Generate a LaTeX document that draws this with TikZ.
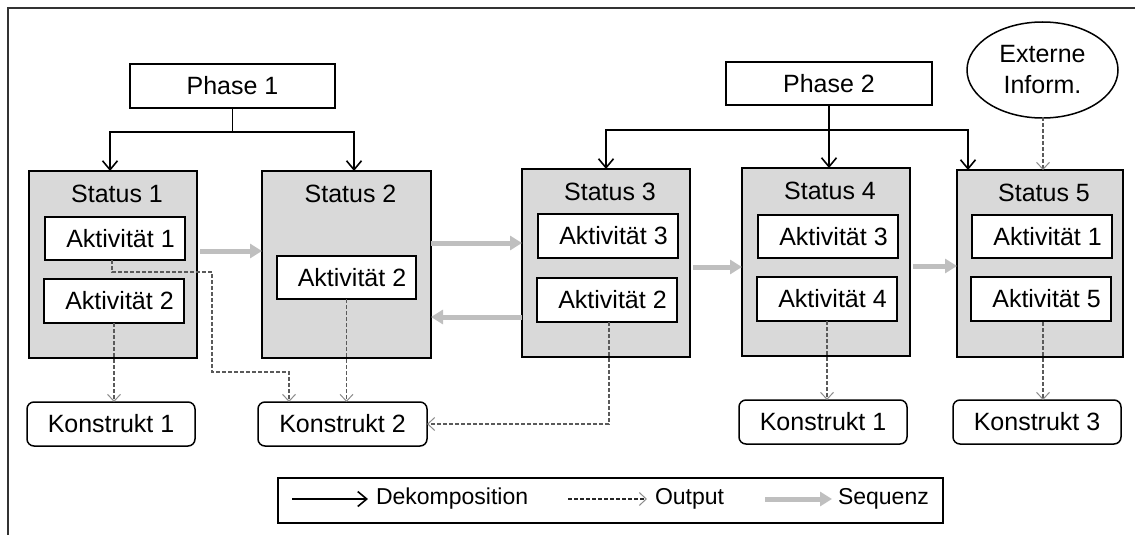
\documentclass[tikz,border=0pt]{standalone}
\usepackage{fontspec}
\setmainfont{Liberation Sans}
\usetikzlibrary{arrows.meta,shapes.geometric}
\definecolor{statusfill}{HTML}{D9D9D9}
\definecolor{seqgray}{HTML}{BFBFBF}
\definecolor{outgray}{HTML}{5A5A5A}

\begin{document}
\begin{tikzpicture}[x=1pt,y=-1pt,
  font=\fontsize{25}{31}\selectfont,
  every node/.style={inner sep=0pt, outer sep=0pt},
  phasebox/.style={draw, line width=1.5pt, fill=white, minimum width=205pt, minimum height=44pt},
  statusbox/.style={draw, line width=1.8pt, fill=statusfill, minimum width=168pt, minimum height=187pt},
  actbox/.style={draw, line width=1.8pt, fill=white, minimum width=140pt, minimum height=44pt,
    execute at begin node=\hspace*{11pt}},
  constbox/.style={draw, line width=1.5pt, rounded corners=7pt, fill=white, minimum width=168pt, minimum height=44pt},
  infobox/.style={draw, ellipse, line width=1.5pt, fill=white, minimum width=151pt, minimum height=96pt, align=center},
  legendbox/.style={draw, line width=1.5pt, fill=white, minimum width=665pt, minimum height=45pt},
  title/.style={anchor=north, xshift=4pt, yshift=-14pt},
  legtext/.style={anchor=west, font=\fontsize{23}{28}\selectfont},
  dek/.style={draw=black, line width=1.6pt, -{Straight Barb[length=9pt,width=15pt,line width=1.6pt]}},
  output/.style={draw=outgray, line width=1.2pt, dash pattern=on 4pt off 2pt,
    -{Straight Barb[length=7pt,width=13pt,line width=1pt,color=black!45]}},
  seq/.style={draw=seqgray, line width=5pt, -{Triangle[length=12pt,width=14pt]}}
]
\useasboundingbox (0,0) rectangle (1135,535);

% frame lines on the left and at the top
\draw[line width=1.5pt, black!80] (8,535) -- (8,8) -- (1135,8);

% phases and external information
\node[phasebox] (P1) at (232.5,86) {Phase 1};
\node[phasebox, minimum width=206pt, minimum height=43pt] (P2) at (829,83.5) {Phase 2};
\node[infobox] (Ext) at (1042.5,70) {Externe\\Inform.};

% status boxes
\node[statusbox, label={[title]north:Status 1}] (S1) at (113,264.5) {};
\node[statusbox, minimum width=169pt, label={[title]north:Status 2}] (S2) at (346.5,264.5) {};
\node[statusbox, minimum height=188pt, label={[title]north:Status 3}] (S3) at (606,263) {};
\node[statusbox, minimum height=188pt, label={[title]north:Status 4}] (S4) at (826,262) {};
\node[statusbox, minimum width=166pt, label={[title]north:Status 5}] (S5) at (1040,263.5) {};

% activities
\node[actbox, minimum height=43pt] (A11) at (115,238.5) {Aktivität 1};
\node[actbox] (A12) at (114,301) {Aktivität 2};
\node[actbox, minimum width=139pt, minimum height=43pt] (A22) at (346.5,277.5) {Aktivität 2};
\node[actbox] (A33) at (608,236) {Aktivität 3};
\node[actbox] (A32) at (607,300) {Aktivität 2};
\node[actbox, minimum height=43pt] (A43) at (828,236.5) {Aktivität 3};
\node[actbox] (A44) at (827,299) {Aktivität 4};
\node[actbox, minimum height=43pt] (A51) at (1042,236.5) {Aktivität 1};
\node[actbox] (A55) at (1041,299) {Aktivität 5};

% constructs
\node[constbox] (K1a) at (111,424) {Konstrukt 1};
\node[constbox, minimum width=169pt] (K2) at (342.5,424) {Konstrukt 2};
\node[constbox] (K1b) at (823,422) {Konstrukt 1};
\node[constbox] (K3) at (1037,422) {Konstrukt 3};

% decomposition
\coordinate (j1) at (232.5,132);
\coordinate (d11) at (110,132);
\coordinate (d12) at (354,132);
\draw[line width=1.6pt] (P1.south) -- (j1);
\draw[dek] (j1) -- (d11) -- (d11 |- S1.north);
\draw[dek] (j1) -- (d12) -- (d12 |- S2.north);
\coordinate (j2) at (P2.south |- 0,130);
\coordinate (d25) at (968,130);
\draw[dek] (P2.south) -- (P2.south |- S4.north);
\draw[dek] (j2) -| (S3.north);
\draw[dek] (j2) -- (d25) -- (d25 |- S5.north);

% sequence
\draw[seq] (200,251) -- (S2.west |- 0,251);
\draw[seq] (S2.east |- 0,243) -- (S3.west |- 0,243);
\draw[seq] (S3.west |- 0,317) -- (S2.east |- 0,317);
\draw[seq] (693,267) -- (S4.west |- 0,267);
\draw[seq] (913,266) -- (S5.west |- 0,266);

% outputs
\coordinate (o1) at (112,272);
\coordinate (o2) at (212,272);
\coordinate (o3) at (212,372);
\coordinate (o4) at (289,372);
\draw[output] (A11.south -| o1) -- (o1) -- (o2) -- (o3) -- (o4) -- (o4 |- K2.north);
\draw[output] (A12.south) -- (A12.south |- K1a.north);
\draw[output] (A22.south) -- (A22.south |- K2.north);
\coordinate (o5) at (609,322);
\draw[output] (o5) |- (K2.east);
\draw[output] (A44.south) -- (A44.south |- K1b.north);
\coordinate (o6) at (1043,322);
\draw[output] (o6) -- (o6 |- K3.north);
\coordinate (o7) at (1043,117);
\draw[output] (o7) -- (o7 |- S5.north);

% legend
\node[legendbox] (leg) at (610.5,500.5) {};
\coordinate (l1a) at (292,499);
\coordinate (l1b) at (368,499);
\draw[dek, line width=1.3pt] (l1a) -- (l1b);
\node[legtext] (t1) at (376,499) {Dekomposition};
\coordinate (l2a) at (568,499);
\coordinate (l2b) at (647,499);
\draw[output, draw=black!85] (l2a) -- (l2b);
\node[legtext] (t2) at (655,499) {Output};
\coordinate (l3a) at (765,499);
\coordinate (l3b) at (832,499);
\draw[seq] (l3a) -- (l3b);
\node[legtext] (t3) at (838,499) {Sequenz};
\end{tikzpicture}
\end{document}
